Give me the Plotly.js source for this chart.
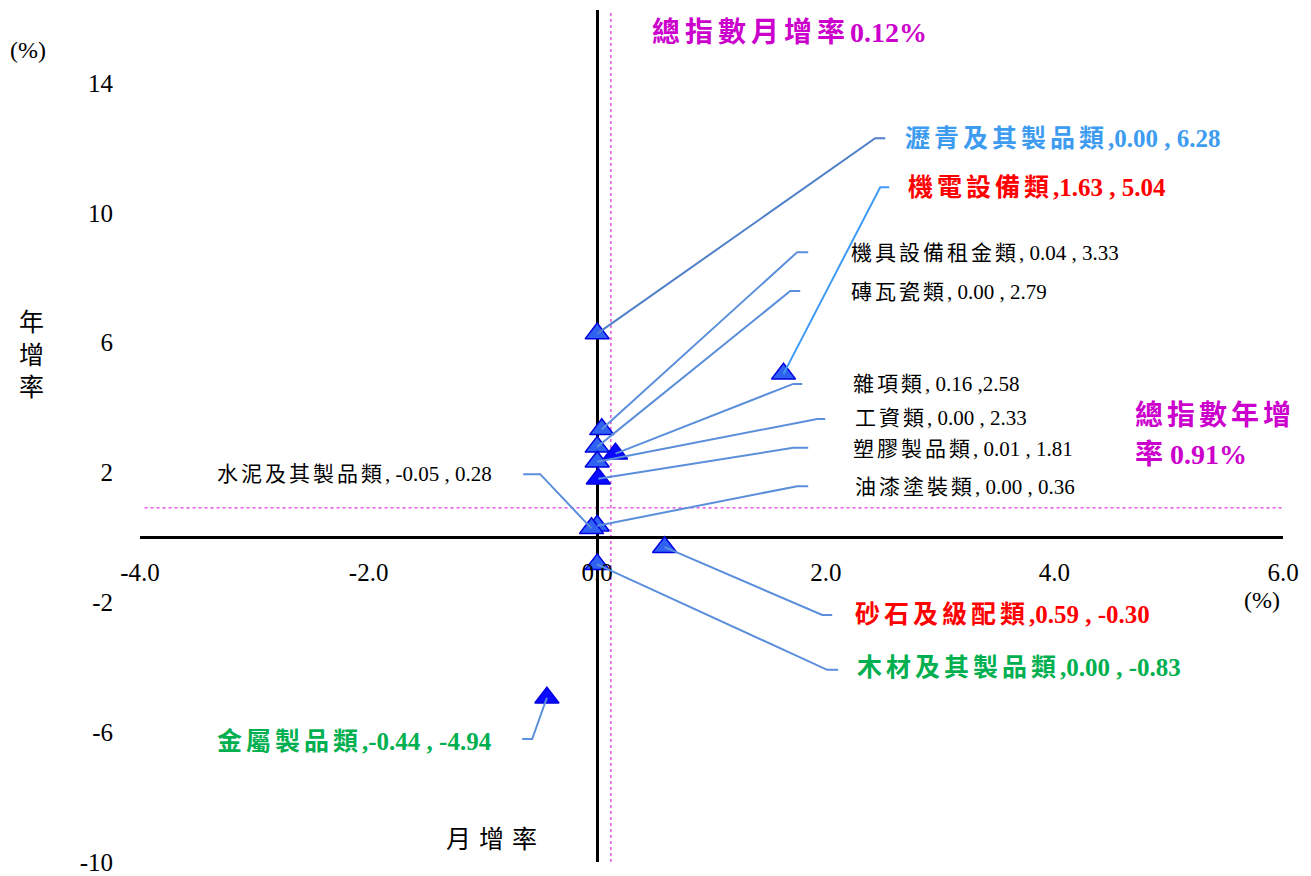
<!DOCTYPE html>
<html><head><meta charset="utf-8">
<script src="https://cdn.plot.ly/plotly-3.0.1.min.js"></script>
<style>html,body{margin:0;padding:0;background:#fff;} #chart{width:1311px;height:876px;}</style>
</head><body><div id="chart"></div>
<script>
// ---- data ----
const categories = ["瀝青及其製品類","機電設備類","機具設備租金類","磚瓦瓷類","雜項類","工資類","塑膠製品類","油漆塗裝類","水泥及其製品類","砂石及級配類","木材及其製品類","金屬製品類"];
const monthlyChange = [0.00, 1.63, 0.04, 0.00, 0.16, 0.00, 0.01, 0.00, -0.05, 0.59, 0.00, -0.44];
const yearlyChange  = [6.28, 5.04, 3.33, 2.79, 2.58, 2.33, 1.81, 0.36, 0.28, -0.30, -0.83, -4.94];
const overallMonthly = 0.12;
const overallYearly = 0.91;
const xTickVals = [-4, -2, 0, 2, 4, 6];
const yTickVals = [-10, -6, -2, 2, 6, 10, 14];

// ---- label placement / style (layout only) ----
const BLUE = "#3d9cf0", RED = "#ff0000", GREEN = "#00b050", BLACK = "#000000";
const labelStyle = [
  {lx:2.677, ly:12.30, ex:2.432, ey:12.30, tx:2.520, color:BLUE,  bold:true,  sep1:",",  sep2:" , ", line:"#4f80c8"},
  {lx:2.703, ly:10.79, ex:2.476, ey:10.79, tx:2.555, color:RED,   bold:true,  sep1:",",  sep2:" , ", line:"#3f9bf5"},
  {lx:2.205, ly:8.76,  ex:1.750, ey:8.79,  tx:1.846, color:BLACK, bold:false, sep1:", ", sep2:" , ", line:"#5b8fdb"},
  {lx:2.205, ly:7.56,  ex:1.689, ey:7.59,  tx:1.776, color:BLACK, bold:false, sep1:", ", sep2:" , ", line:"#5b8fdb"},
  {lx:2.222, ly:4.73,  ex:1.715, ey:4.73,  tx:1.794, color:BLACK, bold:false, sep1:", ", sep2:" ,",  line:"#5b8fdb"},
  {lx:2.240, ly:3.68,  ex:1.925, ey:3.65,  tx:1.995, color:BLACK, bold:false, sep1:", ", sep2:" , ", line:"#5b8fdb"},
  {lx:2.222, ly:2.72,  ex:1.715, ey:2.76,  tx:1.846, color:BLACK, bold:false, sep1:", ", sep2:" , ", line:"#5b8fdb"},
  {lx:2.240, ly:1.55,  ex:1.750, ey:1.58,  tx:1.846, color:BLACK, bold:false, sep1:", ", sep2:" , ", line:"#5b8fdb"},
  {lx:-3.342,ly:1.95,  ex:-0.499,ey:1.95,  tx:-0.647,color:BLACK, bold:false, sep1:", ", sep2:" , ", line:"#5b8fdb"},
  {lx:2.240, ly:-2.36, ex:1.969, ey:-2.39, tx:2.056, color:RED,   bold:true,  sep1:",",  sep2:" , ", line:"#5b8fdb"},
  {lx:2.257, ly:-4.02, ex:2.012, ey:-4.08, tx:2.108, color:GREEN, bold:true,  sep1:",",  sep2:" , ", line:"#5b8fdb"},
  {lx:-3.342,ly:-6.30, ex:-0.569,ey:-6.21, tx:-0.656,color:GREEN, bold:true,  sep1:",",  sep2:" , ", line:"#5b8fdb"}
];
const markerFill = ["#2f62f2","#2f62f2","#2f62f2","#2f62f2","#0a0aff","#2f62f2","#0a0aff","#2f62f2","#2f62f2","#2f62f2","#2f62f2","#0a0aff"];

const FONT = 'Liberation Serif, "Noto Sans CJK TC", serif';
const MAGENTA = "#cc00cc";

function labelText(i){
  const st = labelStyle[i];
  const ls = st.bold ? 4 : 3;
  let t = '<span style="letter-spacing:' + ls + 'px">' + categories[i] + '</span>' +
          st.sep1 + monthlyChange[i].toFixed(2) + st.sep2 + yearlyChange[i].toFixed(2);
  return st.bold ? '<b>' + t + '</b>' : t;
}

const trace = {
  type: 'scatter', mode: 'markers',
  x: monthlyChange, y: yearlyChange, text: categories,
  hoverinfo: 'text+x+y',
  marker: {symbol: 'triangle-up', size: 21, color: markerFill, line: {color: '#0000e0', width: 1.5}},
  cliponaxis: false, showlegend: false
};

const shapes = [
  {type:'line', xref:'x', yref:'paper', x0:overallMonthly, x1:overallMonthly, y0:0, y1:1,
   line:{color:'#d400d4', width:1, dash:'dot'}, layer:'below'},
  {type:'line', xref:'paper', yref:'y', x0:0.004, x1:1, y0:overallYearly, y1:overallYearly,
   line:{color:'#d400d4', width:1, dash:'dot'}, layer:'below'}
];
labelStyle.forEach((st, i) => {
  shapes.push({
    type:'path', xref:'x', yref:'y', layer:'above',
    path: 'M ' + monthlyChange[i] + ',' + yearlyChange[i] + ' L ' + st.ex + ',' + st.ey + ' L ' + st.tx + ',' + st.ey,
    line:{color: st.line, width: 2}
  });
});

const annotations = labelStyle.map((st, i) => ({
  xref:'x', yref:'y', x: st.lx, y: st.ly, xanchor:'left', yanchor:'middle',
  text: labelText(i), showarrow:false,
  font:{family: FONT, size: st.bold ? 25 : 21, color: st.color}
}));

annotations.push(
  {xref:'x', yref:'y', x:0.464, y:15.57, xanchor:'left', yanchor:'middle', showarrow:false,
   text:'<b><span style="letter-spacing:5px">總指數月增率</span>' + overallMonthly.toFixed(2) + '%</b>',
   font:{family:FONT, size:28, color:MAGENTA}},
  {xref:'x', yref:'y', x:4.689, y:3.77, xanchor:'left', yanchor:'middle', showarrow:false,
   text:'<b><span style="letter-spacing:4px">總指數年增</span></b>',
   font:{family:FONT, size:28, color:MAGENTA}},
  {xref:'x', yref:'y', x:4.689, y:2.54, xanchor:'left', yanchor:'middle', showarrow:false,
   text:'<b>率 ' + overallYearly.toFixed(2) + '%</b>',
   font:{family:FONT, size:28, color:MAGENTA}},
  {xref:'paper', yref:'paper', x:-0.098, y:0.953, xanchor:'center', yanchor:'middle', showarrow:false,
   text:'(%)', font:{family:FONT, size:24, color:'#000'}},
  {xref:'x', yref:'y', x:5.818, y:-1.93, xanchor:'center', yanchor:'middle', showarrow:false,
   text:'(%)', font:{family:FONT, size:24, color:'#000'}},
  {xref:'paper', yref:'paper', x:-0.0945, y:0.595, xanchor:'center', yanchor:'middle', showarrow:false,
   text:'年<br>增<br>率', font:{family:FONT, size:25, color:'#000'}},
  {xref:'x', yref:'y', x:-0.892, y:-9.32, xanchor:'center', yanchor:'middle', showarrow:false,
   text:'<span style="letter-spacing:8px">月增率</span>', font:{family:FONT, size:25, color:'#000'}}
);

const yMin = -10, yMax = 16.25;
const layout = {
  width: 1311, height: 876,
  margin: {l: 140, r: 28, t: 10, b: 14},
  paper_bgcolor: '#fff', plot_bgcolor: '#fff',
  showlegend: false,
  font: {family: FONT, color: '#000'},
  xaxis: {
    range: [-4, 6], tickvals: xTickVals, ticktext: xTickVals.map(v => v.toFixed(1)),
    showgrid: false, showline: false, ticks: '',
    zeroline: true, zerolinecolor: '#000', zerolinewidth: 3,
    anchor: 'free', position: (0 - yMin) / (yMax - yMin),
    ticklabelstandoff: 18,
    tickfont: {family: FONT, size: 25, color: '#000'}
  },
  yaxis: {
    range: [yMin, yMax], tickvals: yTickVals, ticktext: yTickVals.map(String),
    showgrid: false, showline: false, ticks: '',
    zeroline: true, zerolinecolor: '#000', zerolinewidth: 3,
    ticklabelstandoff: 26,
    tickfont: {family: FONT, size: 25, color: '#000'}
  },
  shapes: shapes,
  annotations: annotations
};

Plotly.newPlot('chart', [trace], layout, {displayModeBar: false, staticPlot: true});
</script>
</body></html>
